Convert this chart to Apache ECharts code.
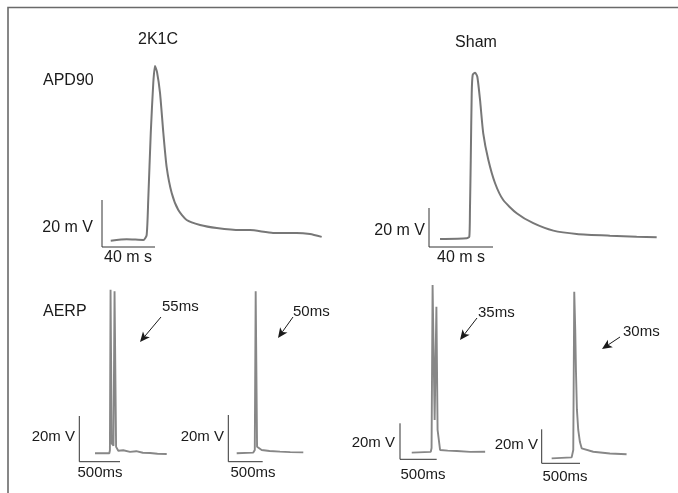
<!DOCTYPE html>
<html>
<head>
<meta charset="utf-8">
<script src="https://cdn.jsdelivr.net/npm/echarts@6/dist/echarts.min.js"></script>
<style>
  html, body { margin: 0; padding: 0; background: #fff; }
  #chart { width: 678px; height: 493px; }
</style>
</head>
<body>
<div id="chart"></div>
<script>
// traces: [time ms, voltage mV] (voltage relative to scale-bar corner)
const apd2k1c = [[6.6,2.7],[18.6,3.3],[31.2,3.0],[33.7,5.1],[34.9,20.0],[36.8,48.5],[38.7,69.8],[40.0,77.0],[41.5,74.5],[43.8,65.5],[46.3,48.5],[48.8,34.0],[52.6,23.0],[57.6,15.7],[63.9,11.5],[74.0,9.4],[86.6,8.1],[104.1,7.2],[111.7,7.2],[129.1,6.0],[146.9,6.0],[157.0,5.5],[165.8,4.3]];
const apdSham = [[6.9,4.1],[23.6,4.5],[25.2,5.3],[25.6,19.0],[26.1,44.6],[26.7,78.8],[27.3,88.2],[28.8,89.4],[30.2,87.3],[31.9,75.4],[33.9,58.3],[37.1,44.6],[41.3,32.7],[46.4,24.1],[54.8,17.3],[65.2,12.2],[77.7,8.4],[92.3,6.7],[113.1,5.8],[129.8,5.3],[142.3,5.0]];
const aerp2k1c55 = [[193,3.7],[369,3.7],[376,5.0],[384,75.3],[398,8.0],[420,7.0],[433,74.6],[452,6.5],[479,4.8],[540,5.0],[623,4.3],[700,4.6],[780,3.9],[869,3.8],[960,3.5],[1074,3.4]];
const aerp2k1c50 = [[122,3.6],[363,3.9],[385,5.0],[398,73.0],[418,6.4],[485,5.0],[600,4.6],[751,4.3],[900,4.1],[1090,4.0]];
const aerpSham35 = [[160,3.7],[419,4.1],[430,6.3],[444,96.8],[472,21.8],[496,84.8],[512,16.3],[546,5.2],[650,4.8],[774,4.6],[955,4.1],[1160,4.2]];
const aerpSham30 = [[130,2.9],[391,3.5],[412,7.8],[425,100.9],[438,78.4],[447,54.9],[460,31.4],[477,19.6],[499,12.5],[522,8.8],[673,6.8],[890,5.8],[1108,5.3]];

// scale bars
const apdBarMs = 40, aerpBarMs = 500, barMv = 20;
const groupTitles = ['2K1C', 'Sham'];
const rowTitles = ['APD90', 'AERP'];
const aerpLabels = ['55ms', '50ms', '35ms', '30ms'];

const FONT = "'Liberation Sans', Arial, sans-serif";
const INK = '#1a1a1a';

// panel: origin = scale-bar corner in px, px per ms, px per mV, axis ranges
const panels = [
  { ox: 102, oy: 247, pt: 53 / 40, pv: 47 / 20, t: [-5, 175], v: [-3, 82], data: apd2k1c, bar: apdBarMs, smooth: true },
  { ox: 429, oy: 247, pt: 64 / 40, pv: 39 / 20, t: [-5, 145], v: [-3, 95], data: apdSham, bar: apdBarMs, smooth: true },
  { ox: 79.3, oy: 461.7, pt: 40.7 / 500, pv: 45.7 / 20, t: [-60, 1120], v: [-3, 80], data: aerp2k1c55, bar: aerpBarMs },
  { ox: 228.3, oy: 461.7, pt: 34.4 / 500, pv: 46.7 / 20, t: [-60, 1130], v: [-3, 78], data: aerp2k1c50, bar: aerpBarMs },
  { ox: 400, oy: 459.3, pt: 36.7 / 500, pv: 36 / 20, t: [-60, 1200], v: [-3, 102], data: aerpSham35, bar: aerpBarMs },
  { ox: 541.7, oy: 463.3, pt: 38.3 / 500, pv: 34 / 20, t: [-60, 1150], v: [-3, 106], data: aerpSham30, bar: aerpBarMs }
];

let grid = [], xAxis = [], yAxis = [], series = [];
panels.forEach((p, i) => {
  grid.push({
    left: p.ox + p.t[0] * p.pt,
    top: p.oy - p.v[1] * p.pv,
    width: (p.t[1] - p.t[0]) * p.pt,
    height: (p.v[1] - p.v[0]) * p.pv
  });
  xAxis.push({ gridIndex: i, type: 'value', min: p.t[0], max: p.t[1], show: false });
  yAxis.push({ gridIndex: i, type: 'value', min: p.v[0], max: p.v[1], show: false });
  series.push({
    type: 'line', xAxisIndex: i, yAxisIndex: i, data: p.data,
    showSymbol: false, clip: false,
    smooth: p.smooth ? 0.2 : false,
    lineStyle: p.smooth ? { color: '#777', width: 2 } : { color: '#878787', width: 1.9 }
  });
  series.push({
    type: 'line', xAxisIndex: i, yAxisIndex: i,
    data: [[0, barMv], [0, 0], [p.bar, 0]],
    showSymbol: false, clip: false,
    lineStyle: { color: '#333', width: 1 }
  });
});

function text(str, x, y, align, size) {
  return {
    type: 'text', x: x, y: y,
    style: {
      text: str, fill: INK, font: (size || 15) + 'px ' + FONT,
      align: align, verticalAlign: 'middle',
      textAlign: align, textVerticalAlign: 'middle'
    }
  };
}

function arrow(x1, y1, x2, y2) {
  const dx = x2 - x1, dy = y2 - y1, L = Math.hypot(dx, dy);
  const ux = dx / L, uy = dy / L, px = -uy, py = ux;
  const hl = 10, hw = 4.5;
  const bx = x2 - ux * hl, by = y2 - uy * hl;
  const nx = x2 - ux * (hl - 2.5), ny = y2 - uy * (hl - 2.5);
  return [
    { type: 'line', shape: { x1: x1, y1: y1, x2: nx, y2: ny }, style: { stroke: INK, lineWidth: 1 } },
    { type: 'polygon', shape: { points: [[x2, y2], [bx + px * hw, by + py * hw], [nx, ny], [bx - px * hw, by - py * hw]] }, style: { fill: INK } }
  ];
}

const graphic = [
  { type: 'polyline', shape: { points: [[8, 493], [8, 7.5], [678, 7.5]] }, style: { stroke: '#6a6a6a', lineWidth: 1.6, fill: null } },
  text(groupTitles[0], 158, 40, 'center', 16),
  text(groupTitles[1], 476, 43, 'center', 16),
  text(rowTitles[0], 43, 81, 'left', 16),
  text(rowTitles[1], 43, 312, 'left', 16),
  text('20 m V', 93, 228, 'right', 16),
  text('40 m s', 128, 258, 'center', 16),
  text('20 m V', 425, 231, 'right', 16),
  text('40 m s', 461, 258, 'center', 16),
  text('20m V', 75, 437, 'right'),
  text('500ms', 100, 473, 'center'),
  text('20m V', 224, 437, 'right'),
  text('500ms', 253, 473, 'center'),
  text('20m V', 395, 443, 'right'),
  text('500ms', 423, 475, 'center'),
  text('20m V', 538, 445, 'right'),
  text('500ms', 565, 477, 'center'),
  text(aerpLabels[0], 162, 307, 'left'),
  text(aerpLabels[1], 293, 312, 'left'),
  text(aerpLabels[2], 478, 313, 'left'),
  text(aerpLabels[3], 623, 332, 'left')
].concat(
  arrow(161, 317, 140, 342),
  arrow(293, 317, 278, 338),
  arrow(477, 318, 460, 340),
  arrow(620, 337, 602, 349)
);

const chart = echarts.init(document.getElementById('chart'));
chart.setOption({
  animation: false,
  backgroundColor: '#fff',
  grid: grid,
  xAxis: xAxis,
  yAxis: yAxis,
  series: series,
  graphic: graphic
});
</script>
</body>
</html>
